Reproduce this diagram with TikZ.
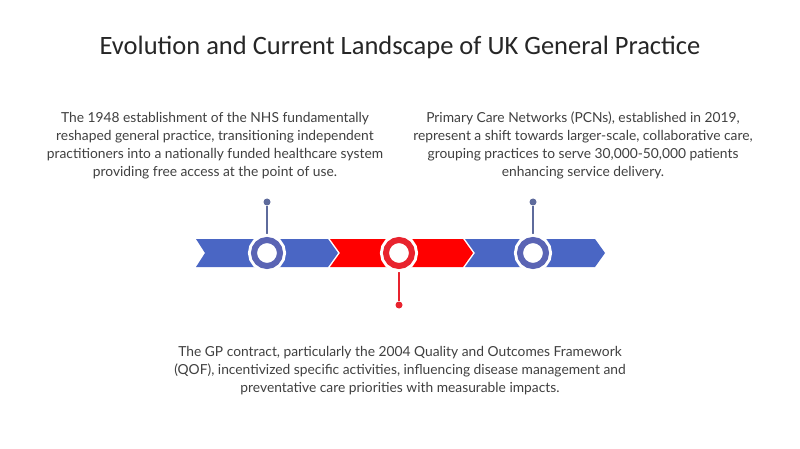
\documentclass[tikz,border=0pt]{standalone}
\usepackage{fontspec}
\setmainfont{Lato}
\newfontfamily\titlefont{Carlito}
\definecolor{barblue}{HTML}{4A66C4}
\definecolor{ringblue}{HTML}{5A64B4}
\definecolor{stemblue}{HTML}{5E6B9C}
\definecolor{barred}{HTML}{FF0000}
\definecolor{ringred}{HTML}{E8232E}
\definecolor{bodygray}{HTML}{404040}
\tikzset{
    blurb/.style={align=center,text=bodygray,font=\fontsize{13.8}{18}\selectfont,inner sep=0pt},
    milestone/.style={circle,draw=#1,line width=6pt,fill=white,minimum size=26pt,inner sep=0pt,
        preaction={draw=white,line width=12pt}},
    pin/.style={circle,fill=#1,minimum size=7pt,inner sep=0pt},
}
\begin{document}
\begin{tikzpicture}[x=1pt,y=-1pt]
        \useasboundingbox[fill=white] (0,0) rectangle (800,449);
        %% Title
        \node[font=\titlefont\fontsize{26.5}{30}\selectfont,text=black!85] (title) at (400,47) {Evolution and Current Landscape of UK General Practice};
        %% Chevrons
        \fill[barblue] (196,239) -- (328,239) -- (338,253) -- (328,267) -- (196,267) -- (205,253) -- cycle;
        \fill[barred] (330,239) -- (463,239) -- (473,253) -- (463,267) -- (330,267) -- (340,253) -- cycle;
        \fill[barblue] (465,239) -- (595,239) -- (605,253) -- (595,267) -- (465,267) -- (475,253) -- cycle;
        %% Milestones
        \node[pin=stemblue] (p1) at (267,202) {};
        \node[pin=ringred] (p2) at (399,305) {};
        \node[pin=stemblue] (p3) at (533,202) {};
        \draw[stemblue,line width=1.5pt] (267,253) -- (p1);
        \draw[ringred,line width=1.5pt] (399,253) -- (p2);
        \draw[stemblue,line width=1.5pt] (533,253) -- (p3);
        \node[milestone=ringblue] (m1) at (267,253) {};
        \node[milestone=ringred] (m2) at (399,253) {};
        \node[milestone=ringblue] (m3) at (533,253) {};
        %% Labels
        \node[blurb,anchor=north] (t1) at (215,112) {The 1948 establishment of the NHS fundamentally\\
            reshaped general practice, transitioning independent\\
            practitioners into a nationally funded healthcare system\\
            providing free access at the point of use.};
        \node[blurb,anchor=north] (t3) at (583,112) {Primary Care Networks (PCNs), established in 2019,\\
            represent a shift towards larger-scale, collaborative care,\\
            grouping practices to serve 30,000-50,000 patients\\
            enhancing service delivery.};
        \node[blurb,anchor=north] (t2) at (400,346) {The GP contract, particularly the 2004 Quality and Outcomes Framework\\
            (QOF), incentivized specific activities, influencing disease management and\\
            preventative care priorities with measurable impacts.};
    \end{tikzpicture}
\end{document}
